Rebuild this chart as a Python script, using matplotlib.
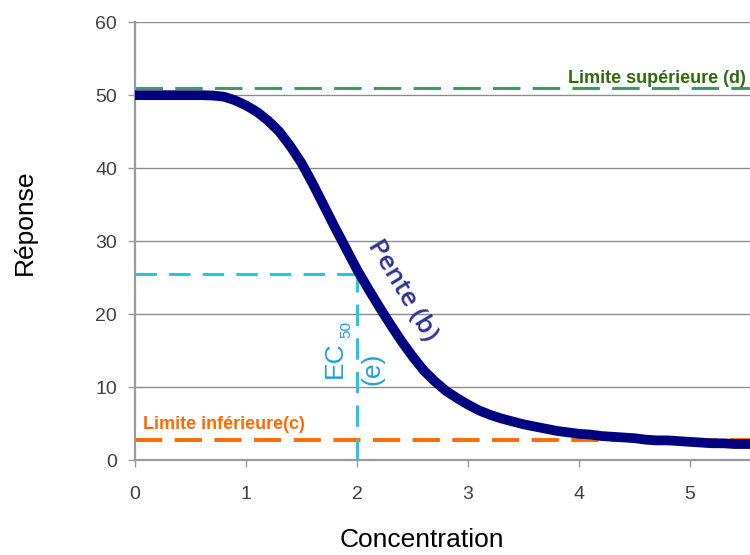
import matplotlib
matplotlib.use("Agg")
import matplotlib.pyplot as plt

# Data
conc = [0.0, 0.1, 0.2, 0.3, 0.4, 0.5, 0.6, 0.7, 0.8, 0.9,
        1.0, 1.1, 1.2, 1.3, 1.4, 1.5, 1.6, 1.7, 1.8, 1.9,
        2.0, 2.1, 2.2, 2.3, 2.4, 2.5, 2.6, 2.7, 2.8, 2.9,
        3.0, 3.1, 3.2, 3.3, 3.4, 3.5, 3.6, 3.7, 3.8, 3.9,
        4.0, 4.1, 4.2, 4.3, 4.4, 4.5, 4.6, 4.7, 4.8, 4.9,
        5.0, 5.1, 5.2, 5.3, 5.4, 5.5, 5.6]
reponse = [50.0, 50.0, 50.0, 50.0, 50.0, 50.0, 50.0, 49.95, 49.8, 49.3,
           48.6, 47.7, 46.5, 45.0, 43.0, 40.7, 37.9, 34.9, 31.9, 29.0,
           26.1, 23.5, 21.0, 18.6, 16.3, 14.2, 12.3, 10.8, 9.5, 8.5,
           7.6, 6.8, 6.2, 5.7, 5.3, 4.9, 4.6, 4.3, 4.0, 3.8,
           3.6, 3.5, 3.3, 3.2, 3.1, 3.0, 2.8, 2.7, 2.7, 2.6,
           2.5, 2.4, 2.3, 2.3, 2.2, 2.2, 2.2]
upper_limit = 51.0
lower_limit = 2.7
ec50_x = 2.0
ec50_y = 25.5
x_ticks = [0, 1, 2, 3, 4, 5]
y_ticks = [0, 10, 20, 30, 40, 50, 60]

plt.rcParams['font.family'] = ['Liberation Sans', 'DejaVu Sans']

fig = plt.figure(figsize=(7.5, 5.55), dpi=100)
ax = fig.add_axes([0.18, 0.171, 0.82, 0.789])

ax.set_xlim(0, 5.54)
ax.set_ylim(0, 60)

# gridlines
for yv in y_ticks[1:]:
    ax.axhline(yv, color='#8c8c8c', lw=1.0, zorder=1)

# limits
ax.axhline(upper_limit, color='#3a9a6a', lw=2.2, dashes=(9, 4), zorder=2)
ax.axhline(lower_limit, color='#ff6a00', lw=2.8, dashes=(7, 3.2), zorder=2)

# EC50 guides
ax.plot([0, ec50_x], [ec50_y, ec50_y], color='#1cc8f2', lw=2.2, dashes=(7, 4), zorder=2)
ax.plot([ec50_x, ec50_x], [0, ec50_y], color='#1cc8f2', lw=2.2, dashes=(7, 4), zorder=2)

# curve
ax.plot(conc, reponse, color='#000080', lw=7, solid_capstyle='butt',
        solid_joinstyle='round', zorder=3)

# texts
ax.text(0.993, 52.3, 'Limite supérieure (d)', transform=ax.get_yaxis_transform(),
        ha='right', va='center', fontsize=13, fontweight='bold', color='#2f6b0c')
ax.text(0.07, 4.9, 'Limite inférieure(c)', ha='left', va='center',
        fontsize=13, fontweight='bold', color='#ff6a00')
ax.text(2.41, 23.3, 'Pente (b)', rotation=-59, ha='center', va='center',
        fontsize=19, color='#2e3192', family=['Open Sans', 'DejaVu Sans'],
        fontweight='semibold', rotation_mode='anchor')
ax.text(1.80, 13.7, 'EC', rotation=90, ha='center', va='center',
        fontsize=19, color='#1a9fe6')
ax.text(1.90, 17.9, '50', rotation=90, ha='center', va='center',
        fontsize=11, color='#1a9fe6')
ax.text(2.14, 12.5, '(e)', rotation=90, ha='center', va='center',
        fontsize=19, color='#1a9fe6')

# axes styling
for s in ['top', 'right']:
    ax.spines[s].set_visible(False)
for s in ['left', 'bottom']:
    ax.spines[s].set_color('#9a9a9a')
    ax.spines[s].set_linewidth(1.6)

ax.set_xticks(x_ticks)
ax.set_yticks(y_ticks)
ax.tick_params(axis='both', direction='out', length=5, width=1.0, color='#9a9a9a',
               labelsize=14, labelcolor='#404040')
ax.tick_params(axis='x', pad=14)
ax.tick_params(axis='y', pad=8)

fig.text(0.563, 0.027, 'Concentration', ha='center', va='center', fontsize=19, color='#000000')
fig.text(0.033, 0.60, 'Réponse', ha='center', va='center', rotation=90, fontsize=19, color='#000000')

fig.savefig('out.png', dpi=100)
